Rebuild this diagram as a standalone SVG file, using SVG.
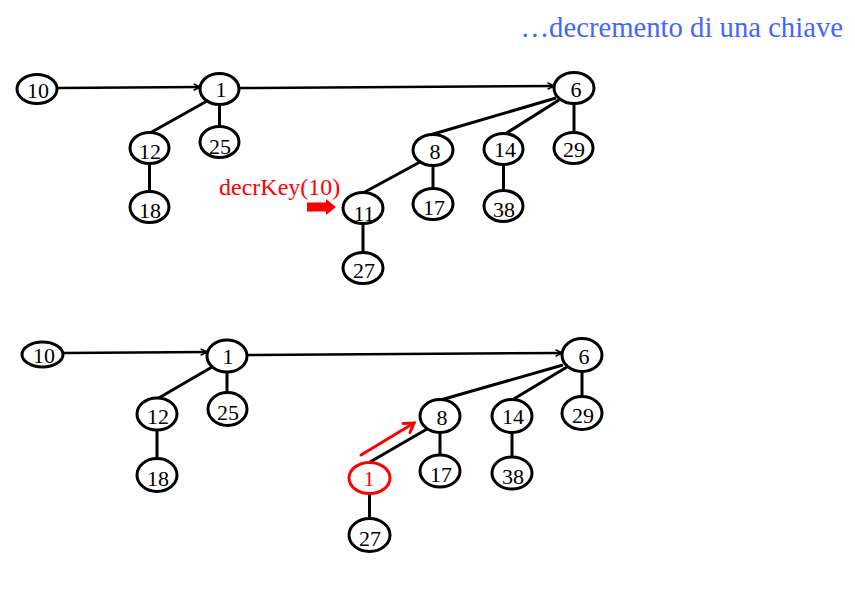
<svg xmlns="http://www.w3.org/2000/svg" width="855" height="601" viewBox="0 0 855 601">
  <defs>
    <style>
      .node ellipse { fill: #fff; stroke: #000; stroke-width: 3; }
      .node text { font-family: "Liberation Serif", "Times New Roman", serif; font-size: 22px; fill: #000; text-anchor: middle; }
      .hot ellipse { stroke: #f00; }
      .hot text { fill: #f00; }
      .edge { stroke: #000; stroke-width: 3; fill: none; }
      .link { stroke: #000; stroke-width: 2.5; fill: none; marker-end: url(#tip); }
      .title { font-family: "Liberation Serif", "Times New Roman", serif; font-size: 28.7px; fill: #4466ff; text-anchor: end; }
      .op { font-family: "Liberation Serif", "Times New Roman", serif; font-size: 24px; fill: #f00; }
    </style>
    <marker id="tip" viewBox="0 0 10 10" refX="9" refY="5" markerWidth="8" markerHeight="8" markerUnits="userSpaceOnUse" orient="auto">
      <path d="M1,1 L9,5 L1,9" fill="none" stroke="#000" stroke-width="2"/>
    </marker>
  </defs>

  <text class="title" x="843" y="37">…decremento di una chiave</text>

  <!-- upper heap: connectors -->
  <g id="edges-top">
    <line class="link" x1="57" y1="88" x2="200" y2="87"/>
    <line class="link" x1="239" y1="88" x2="554" y2="86"/>
    <line class="edge" x1="207" y1="101" x2="150" y2="133"/>
    <line class="edge" x1="219.5" y1="104" x2="219.5" y2="127"/>
    <line class="edge" x1="149.5" y1="163" x2="149.5" y2="192"/>
    <line class="edge" x1="556" y1="98" x2="430" y2="135"/>
    <line class="edge" x1="559" y1="100" x2="505" y2="134"/>
    <line class="edge" x1="574" y1="104" x2="574" y2="133"/>
    <line class="edge" x1="420" y1="162" x2="363" y2="193"/>
    <line class="edge" x1="433" y1="165" x2="433" y2="189"/>
    <line class="edge" x1="503.5" y1="164" x2="503.5" y2="191"/>
    <line class="edge" x1="363" y1="223" x2="363" y2="253"/>
  </g>

  <!-- upper heap: nodes -->
  <g id="t10" class="node"><ellipse cx="37" cy="89" rx="20" ry="14.5"/><text x="38" y="98">10</text></g>
  <g id="t1" class="node"><ellipse cx="219.5" cy="89" rx="19.5" ry="15.5"/><text x="221" y="97">1</text></g>
  <g id="t12" class="node"><ellipse cx="149.5" cy="148" rx="19.5" ry="15.5"/><text x="150" y="159">12</text></g>
  <g id="t25" class="node"><ellipse cx="219.5" cy="142" rx="19.5" ry="15.5"/><text x="220" y="154">25</text></g>
  <g id="t18" class="node"><ellipse cx="149.5" cy="207" rx="19.5" ry="15.5"/><text x="150" y="218">18</text></g>
  <g id="t6" class="node"><ellipse cx="574" cy="88" rx="20" ry="15.5"/><text x="576" y="97">6</text></g>
  <g id="t8" class="node"><ellipse cx="433" cy="150" rx="20" ry="15.5"/><text x="435" y="159">8</text></g>
  <g id="t14" class="node"><ellipse cx="503.5" cy="149" rx="19.5" ry="15.5"/><text x="505" y="157">14</text></g>
  <g id="t29" class="node"><ellipse cx="573.5" cy="148" rx="19.5" ry="15.5"/><text x="574" y="157">29</text></g>
  <g id="t11" class="node"><ellipse cx="363" cy="208" rx="20" ry="15.5"/><text x="364" y="221">11</text></g>
  <g id="t17" class="node"><ellipse cx="433" cy="204" rx="20" ry="15.5"/><text x="434" y="215">17</text></g>
  <g id="t38" class="node"><ellipse cx="503.5" cy="206" rx="19.5" ry="15.5"/><text x="504" y="217">38</text></g>
  <g id="t27" class="node"><ellipse cx="363" cy="268" rx="20" ry="15.5"/><text x="364" y="278">27</text></g>

  <!-- decrease-key operation marker -->
  <g id="op">
    <text class="op" x="219" y="195">decrKey(10)</text>
    <path d="M307,202.5 L326,202.5 L326,199 L336,207 L326,215 L326,211.5 L307,211.5 Z" fill="#f00"/>
  </g>

  <!-- lower heap: connectors -->
  <g id="edges-bottom">
    <line class="link" x1="64" y1="353" x2="207" y2="352"/>
    <line class="link" x1="247" y1="355" x2="562" y2="353"/>
    <line class="edge" x1="212" y1="367" x2="157" y2="399"/>
    <line class="edge" x1="227" y1="372" x2="227" y2="393"/>
    <line class="edge" x1="157" y1="430" x2="157" y2="459"/>
    <line class="edge" x1="563" y1="365" x2="437" y2="401"/>
    <line class="edge" x1="567" y1="367" x2="512" y2="400"/>
    <line class="edge" x1="582" y1="371" x2="582" y2="398"/>
    <line class="edge" x1="427" y1="429" x2="370" y2="462"/>
    <line class="edge" x1="440" y1="432" x2="440" y2="456"/>
    <line class="edge" x1="512" y1="432" x2="512" y2="458"/>
    <line class="edge" x1="369.5" y1="494" x2="369.5" y2="519"/>
  </g>

  <!-- promotion of the decreased key -->
  <g id="swap" stroke="#f00" stroke-width="3" fill="none" stroke-linecap="round">
    <line x1="361" y1="455" x2="414" y2="423"/>
    <polyline points="403,423.5 414,423 410,432.5"/>
  </g>

  <!-- lower heap: nodes -->
  <g id="b10" class="node"><ellipse cx="42.5" cy="354.5" rx="20.5" ry="12.5"/><text x="44" y="363">10</text></g>
  <g id="b1" class="node"><ellipse cx="227" cy="356" rx="20" ry="16"/><text x="228" y="364">1</text></g>
  <g id="b12" class="node"><ellipse cx="157" cy="414" rx="20" ry="16"/><text x="158" y="424">12</text></g>
  <g id="b25" class="node"><ellipse cx="227.5" cy="409" rx="19.5" ry="16.5"/><text x="228" y="420">25</text></g>
  <g id="b18" class="node"><ellipse cx="157" cy="475" rx="20" ry="16.5"/><text x="158" y="486">18</text></g>
  <g id="b6" class="node"><ellipse cx="582" cy="355" rx="20" ry="16.5"/><text x="584" y="364">6</text></g>
  <g id="b8" class="node"><ellipse cx="440" cy="416" rx="20" ry="16.5"/><text x="442" y="425">8</text></g>
  <g id="b14" class="node"><ellipse cx="512" cy="416" rx="20" ry="16.5"/><text x="513" y="424">14</text></g>
  <g id="b29" class="node"><ellipse cx="582" cy="413" rx="20" ry="16.5"/><text x="583" y="423">29</text></g>
  <g id="b1red" class="node hot"><ellipse cx="369.5" cy="478" rx="20.5" ry="15.5"/><text x="369" y="486">1</text></g>
  <g id="b17" class="node"><ellipse cx="440" cy="471" rx="20" ry="16"/><text x="441" y="482">17</text></g>
  <g id="b38" class="node"><ellipse cx="512" cy="473" rx="20" ry="16"/><text x="513" y="484">38</text></g>
  <g id="b27" class="node"><ellipse cx="369.5" cy="535" rx="20.5" ry="16.5"/><text x="370" y="546">27</text></g>
</svg>
